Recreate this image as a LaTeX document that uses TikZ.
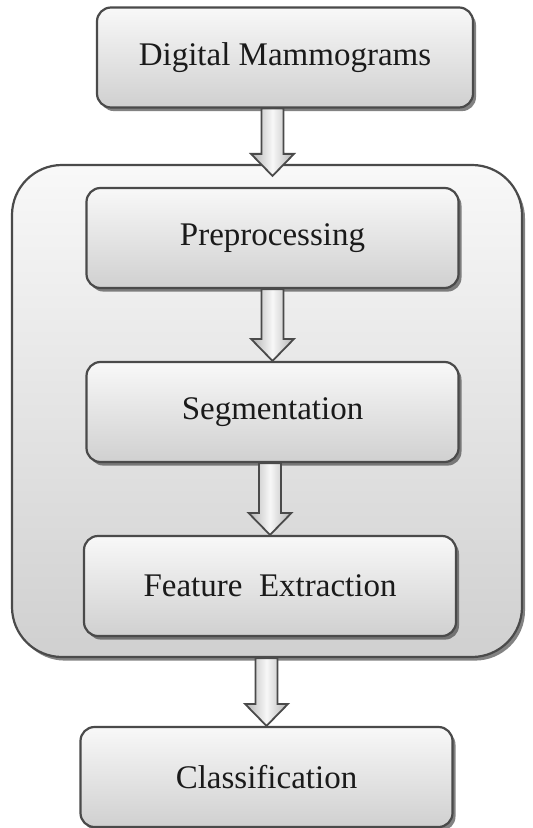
\documentclass[tikz,border=0pt]{standalone}
\usepackage{fontspec}
\setmainfont{Liberation Serif}
\usetikzlibrary{calc,shadows}

\definecolor{boxfill}{HTML}{E4E4E4}
\definecolor{boxline}{HTML}{4A4A4A}
\definecolor{txt}{HTML}{1A1A1A}

\tikzset{
  panel/.style={
    draw=boxline, line width=1.1pt, rounded corners=7pt,
    top color=white!75!boxfill, bottom color=boxfill!80!gray,
    middle color=boxfill,
    drop shadow={shadow xshift=1.5pt, shadow yshift=-1.8pt,
                 opacity=0.65, fill=black!75},
    text=txt, font=\fontsize{16.5}{19}\selectfont,
    inner sep=0pt, anchor=center},
  stage/.style={panel, minimum width=186pt, minimum height=50pt},
  frame/.style={panel, rounded corners=25pt,
    minimum width=255pt, minimum height=246pt},
  flowarrow/.style={draw=boxline, line width=0.9pt, line join=miter,
    left color=gray!60, right color=gray!60, middle color=gray!6},
}

% block arrow from the level of #1 down to the tip #2 (shaft centred on #2)
\newcommand\blockarrow[2]{%
  \path[flowarrow] let \p1=(#1), \p2=(#2) in
    (\x2-5.5pt,\y1) -- (\x2+5.5pt,\y1) -- (\x2+5.5pt,\y2+11pt)
    -- (\x2+10.75pt,\y2+11pt) -- (\x2,\y2) -- (\x2-10.75pt,\y2+11pt)
    -- (\x2-5.5pt,\y2+11pt) -- cycle;}

\begin{document}
\begin{tikzpicture}[x=0.5pt, y=-0.5pt]
  \useasboundingbox (0,0) rectangle (532,828);
  \fill[white] (0,0) rectangle (532,828);

  \node[frame] (outer) at (267,411) {};
  \node[stage, minimum width=188pt] (dm) at (285,57.5) {Digital Mammograms};
  \node[stage] (pre) at (272.5,238) {Preprocessing};
  \node[stage] (seg) at (272.5,412) {Segmentation};
  \node[stage] (fe)  at (270,586) {Feature\hspace{0.25em} Extraction};
  \node[stage] (cls) at (266.5,777) {Classification};

  \coordinate (t1) at ($(outer.north -| pre.north)+(0,12)$);
  \blockarrow{dm.south}{t1}
  \blockarrow{pre.south}{seg.north}
  \blockarrow{seg.south}{fe.north}
  \blockarrow{outer.south}{cls.north}
\end{tikzpicture}
\end{document}
